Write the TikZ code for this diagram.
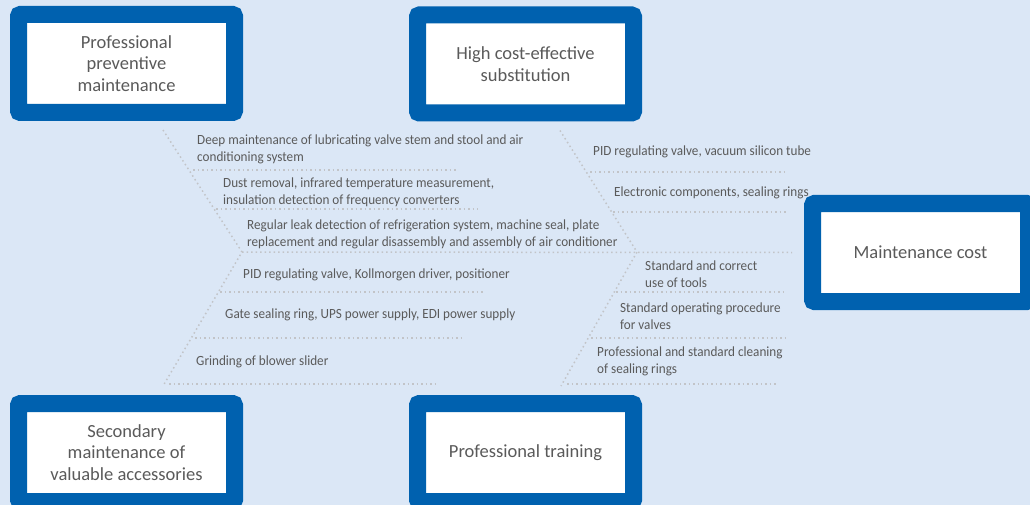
\documentclass[tikz,border=0pt]{standalone}
\usepackage{fontspec}
\setmainfont{Carlito}
\newfontfamily\itemfont[FakeStretch=0.94]{Carlito}
\usetikzlibrary{calc}
\definecolor{bgblue}{HTML}{DBE7F6}
\definecolor{boxblue}{HTML}{0061AF}
\definecolor{txtgray}{HTML}{5A5A5A}
\definecolor{dotgray}{HTML}{C2C4C8}

\begin{document}
\begin{tikzpicture}[x=1pt,y=-1pt,
    cause/.style={draw=boxblue, line width=17pt, fill=white, rounded corners=2pt,
      minimum width=216pt, minimum height=98pt, inner sep=0pt, align=center,
      text=txtgray, font=\fontsize{18.5}{21.5}\selectfont},
    item/.style={anchor=north west, inner sep=0pt, align=left, text=txtgray,
      font=\itemfont\fontsize{14}{17}\selectfont},
    bone/.style={draw=dotgray, line width=1.5pt, dash pattern=on 1.5pt off 3pt}]
  % background and page size
  \fill[bgblue] (0,0) rectangle (1030,505);
  \useasboundingbox (0,0) rectangle (1030,505);
  \clip (0,0) rectangle (1030,505);

  % cause boxes and the effect box
  \node[cause] (pm) at (126.5,63.5) {Professional\\preventive\\maintenance};
  \node[cause] (hc) at (525.5,64) {High cost-effective\\substitution};
  \node[cause] (mc) at (920.5,252.5) {Maintenance cost};
  \node[cause] (sm) at (126.5,452.5) {Secondary\\maintenance of\\valuable accessories};
  \node[cause] (pt) at (525.5,452.5) {Professional training};

  % bones
  \coordinate (jl) at (242,252);
  \coordinate (jr) at (637,252);
  \draw[bone] ($(pm.south)+(36.5,9)$) -- (jl) -- ($(sm.north)+(36.5,-9)$);
  \draw[bone] ($(hc.south)+(34.5,9)$) -- (jr) -- ($(pt.north)+(35.5,-9)$);
  \draw[bone] (jl) -- ($(mc.west)+(-12,0)$);

  % small bones
  \foreach \y/\a/\b in {170/193/457, 209/216/478, 292/220/485, 338/195/463,
                        384/169/435, 172/590/787, 212/613/787, 292/616/787,
                        338/591/787, 384/567/777}
    \draw[bone] (\a,\y) -- (\b,\y);

  % items
  \node[item] (l1) at (197,135) {Deep maintenance of lubricating valve stem and stool and air\\conditioning system};
  \node[item] (l2) at (223,178) {Dust removal, infrared temperature measurement,\\insulation detection of frequency converters};
  \node[item] (l3) at (247,220) {Regular leak detection of refrigeration system, machine seal, plate\\replacement and regular disassembly and assembly of air conditioner};
  \node[item] (l4) at (243,269) {PID regulating valve, Kollmorgen driver, positioner};
  \node[item] (l5) at (225,309) {Gate sealing ring, UPS power supply, EDI power supply};
  \node[item] (l6) at (196,356) {Grinding of blower slider};
  \node[item] (r1) at (593,146) {PID regulating valve, vacuum silicon tube};
  \node[item] (r2) at (614,187) {Electronic components, sealing rings};
  \node[item] (r3) at (645,261) {Standard and correct\\use of tools};
  \node[item] (r4) at (620,303) {Standard operating procedure\\for valves};
  \node[item] (r5) at (597,347) {Professional and standard cleaning\\of sealing rings};
\end{tikzpicture}
\end{document}
